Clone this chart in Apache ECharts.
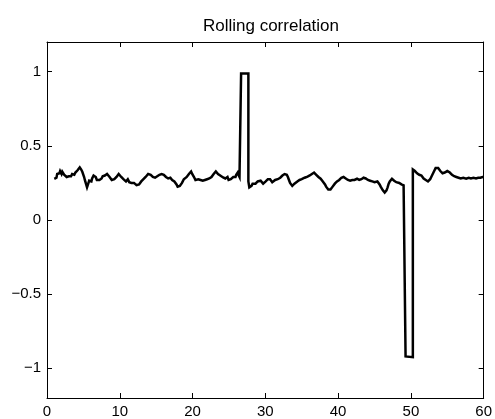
<!DOCTYPE html>
<html>
<head>
<meta charset="utf-8">
<script src="https://cdn.jsdelivr.net/npm/echarts@6/dist/echarts.min.js"></script>
<style>
  html, body { margin: 0; padding: 0; background: #fff; }
  #chart { width: 495px; height: 419px; }
</style>
</head>
<body>
<div id="chart"></div>
<script>
// [time, correlation] pairs, split into pieces
var beforeFirstJump = [
  [1.0,.278],[1.1,.27],[1.2,.29],[1.3,.285],[1.4,.31],[1.5,.30],[1.6,.32],[1.7,.315],[1.8,.33],[1.9,.32],
  [2.0,.31],[2.1,.325],[2.2,.32],[2.35,.305],[2.5,.30],[2.6,.31],[2.7,.29],[2.8,.295],[2.9,.287],[3.0,.295],
  [3.1,.30],[3.2,.29],[3.3,.295],[3.45,.31],[3.6,.315],[3.75,.305],[3.9,.32],[4.05,.325],[4.2,.335],[4.35,.34],
  [4.5,.355],[4.6,.345],[4.7,.34],[4.85,.325],[5.0,.315],[5.1,.29],[5.2,.27],[5.35,.245],[5.5,.22],[5.6,.235],
  [5.7,.25],[5.8,.265],[5.9,.27],[6.0,.255],[6.1,.26],[6.2,.28],[6.3,.29],[6.4,.30],[6.5,.31],[6.6,.30],
  [6.7,.29],[6.85,.27],[7.0,.26],[7.1,.275],[7.2,.27],[7.35,.28],[7.5,.28],[7.65,.295],[7.8,.29],[7.95,.30],
  [8.1,.30],[8.25,.31],[8.4,.31],[8.5,.30],[8.6,.29],[8.75,.28],[8.9,.27],[9.0,.26],[9.1,.265],[9.25,.275],
  [9.4,.28],[9.55,.29],[9.7,.30],[9.85,.31],[10.0,.31],[10.1,.30],[10.2,.29],[10.35,.28],[10.5,.275],[10.6,.28],
  [10.7,.27],[10.85,.26],[11.0,.265],[11.1,.275],[11.2,.27],[11.3,.255],[11.4,.26],[11.5,.255],[11.6,.25],[11.7,.245],
  [11.8,.24],[11.95,.25],[12.1,.245],[12.2,.24],[12.3,.235],[12.4,.24],[12.5,.234],[12.65,.24],[12.8,.25],[12.95,.26],
  [13.1,.265],[13.25,.275],[13.4,.28],[13.55,.29],[13.7,.30],[13.9,.31],[14.1,.315],[14.25,.305],[14.4,.30],[14.55,.29],
  [14.7,.295],[14.85,.285],[15.0,.287],[15.15,.295],[15.3,.295],[15.45,.305],[15.6,.30],[15.75,.31],[15.9,.31],[16.05,.305],
  [16.2,.30],[16.35,.29],[16.5,.29],[16.65,.28],[16.8,.287],[16.95,.285],[17.1,.28],[17.2,.27],[17.3,.27],[17.4,.26],
  [17.5,.26],[17.65,.25],[17.8,.24],[17.95,.225],[18.1,.216],[18.25,.23],[18.4,.24],[18.55,.25],[18.7,.26],[18.8,.275],
  [18.9,.27],[19.05,.28],[19.2,.29],[19.35,.30],[19.5,.31],[19.65,.315],[19.8,.327],[19.95,.31],[20.1,.30],[20.2,.29],
  [20.3,.28],[20.4,.27],[20.5,.267],[20.65,.27],[20.8,.275],[20.95,.265],[21.1,.27],[21.25,.26],[21.4,.265],[21.55,.275],
  [21.7,.27],[21.85,.28],[22.0,.275],[22.15,.285],[22.3,.28],[22.45,.29],[22.6,.29],[22.75,.30],[22.9,.31],[23.05,.32],
  [23.2,.327],[23.35,.315],[23.5,.31],[23.65,.30],[23.8,.30],[24.0,.29],[24.2,.287],[24.35,.275],[24.5,.28],[24.65,.29],
  [24.8,.29],[24.95,.27],[25.1,.278],[25.25,.275],[25.4,.285],[25.6,.29],[25.8,.30],[25.9,.29],[26.0,.305],[26.1,.31],
  [26.2,.32],[26.3,.305],[26.45,.29],[26.55,.285],[26.67,.28]
];
var firstJump = [[26.67,.987],[27.67,.987]];
var betweenJumps = [
  [27.67,.26],[27.8,.22],[27.95,.225],[28.1,.23],[28.25,.245],[28.4,.235],[28.5,.238],[28.65,.245],[28.8,.25],[28.95,.26],
  [29.1,.255],[29.2,.26],[29.35,.265],[29.5,.255],[29.7,.245],[29.9,.25],[30.05,.26],[30.2,.265],[30.35,.275],[30.5,.28],
  [30.65,.275],[30.8,.27],[30.95,.255],[31.1,.26],[31.2,.26],[31.35,.27],[31.5,.27],[31.7,.275],[31.9,.28],[32.05,.285],
  [32.2,.29],[32.35,.30],[32.5,.30],[32.65,.31],[32.8,.315],[32.95,.305],[33.1,.29],[33.25,.27],[33.4,.25],[33.55,.24],
  [33.7,.23],[33.85,.24],[34.0,.245],[34.2,.255],[34.4,.26],[34.55,.265],[34.7,.27],[34.85,.265],[35.0,.275],[35.2,.28],
  [35.4,.285],[35.6,.29],[35.8,.293],[35.95,.30],[36.1,.30],[36.25,.31],[36.4,.31],[36.55,.315],[36.7,.32],[36.85,.31],
  [37.0,.305],[37.15,.295],[37.3,.29],[37.45,.285],[37.6,.278],[37.75,.27],[37.9,.26],[38.05,.25],[38.2,.24],[38.35,.225],
  [38.5,.215],[38.65,.205],[38.8,.198],[38.95,.205],[39.1,.215],[39.25,.225],[39.4,.235],[39.55,.245],[39.7,.25],[39.85,.26],
  [40.0,.265],[40.15,.27],[40.3,.28],[40.45,.285],[40.6,.293],[40.75,.29],[40.9,.285],[41.05,.28],[41.2,.275],[41.35,.27],
  [41.5,.27],[41.65,.265],[41.8,.275],[41.95,.27],[42.1,.28],[42.25,.27],[42.4,.275],[42.5,.28],[42.6,.278],[42.75,.275],
  [42.9,.27],[43.05,.265],[43.2,.275],[43.35,.28],[43.5,.285],[43.65,.275],[43.8,.28],[43.95,.275],[44.1,.27],[44.25,.26],
  [44.4,.265],[44.55,.26],[44.7,.26],[44.85,.255],[45.0,.255],[45.2,.265],[45.4,.26],[45.55,.25],[45.7,.24],[45.85,.225],
  [46.0,.215],[46.15,.20],[46.3,.19],[46.4,.185],[46.5,.183],[46.65,.20],[46.8,.22],[46.95,.245],[47.1,.26],[47.25,.27],
  [47.4,.278],[47.55,.27],[47.7,.265],[47.85,.26],[48.0,.255],[48.2,.25],[48.4,.25],[48.55,.245],[48.7,.24],[48.85,.24],
  [49.0,.234],[49.15,.24],[49.27,.235]
];
var secondJump = [[49.27,-.92],[50.27,-.925]];
var afterSecondJump = [
  [50.27,.34],[50.4,.338],[50.55,.33],[50.7,.325],[50.85,.315],[51.0,.31],[51.15,.305],[51.3,.304],[51.45,.30],[51.6,.29],
  [51.75,.28],[51.9,.275],[52.05,.27],[52.2,.265],[52.35,.26],[52.5,.26],[52.65,.275],[52.8,.29],[52.95,.305],[53.1,.32],
  [53.25,.335],[53.4,.35],[53.5,.355],[53.6,.36],[53.75,.35],[53.9,.34],[54.05,.33],[54.2,.32],[54.35,.315],[54.5,.315],
  [54.65,.32],[54.8,.32],[54.9,.325],[55.0,.33],[55.1,.335],[55.2,.33],[55.35,.32],[55.5,.31],[55.65,.305],[55.8,.30],
  [55.95,.295],[56.1,.293],[56.25,.29],[56.4,.29],[56.55,.285],[56.7,.285],[56.85,.28],[57.0,.28],[57.2,.285],[57.4,.282],
  [57.6,.278],[57.8,.28],[57.95,.285],[58.1,.285],[58.25,.28],[58.4,.278],[58.6,.285],[58.8,.285],[58.95,.28],[59.1,.28],
  [59.25,.285],[59.4,.29],[59.55,.285],[59.7,.293],[59.85,.29],[60.0,.29]
];

var xTicks = [0, 10, 20, 30, 40, 50, 60];
var yTicks = [-1, -0.5, 0, 0.5, 1];
var yTickLabels = ['\u22121', '\u22120.5', '0', '0.5', '1'];

var chart = echarts.init(document.getElementById('chart'));

var seriesData = beforeFirstJump.concat(firstJump, betweenJumps, secondJump, afterSecondJump);

var fontFamily = 'Liberation Sans, Arial, Helvetica, sans-serif';
var boxLine = { show: true, onZero: false, lineStyle: { color: '#000', width: 1 } };
var inTick = { show: true, inside: true, length: 5, lineStyle: { color: '#000', width: 1 } };

function yLabel(v) {
    var idx = yTicks.indexOf(v);
    return idx >= 0 ? yTickLabels[idx] : '';
}

var option = {
    backgroundColor: '#fff',
    animation: false,
    title: {
        text: 'Rolling correlation',
        left: 266,
        textAlign: 'center',
        top: 13,
        textStyle: { fontFamily: fontFamily, fontSize: 17, fontWeight: 'normal', color: '#000' }
    },
    grid: { left: 47, right: 10, top: 42, bottom: 17 },
    xAxis: [{
        type: 'value',
        position: 'bottom',
        min: 0, max: 60, interval: 10,
        axisLine: boxLine,
        axisTick: inTick,
        splitLine: { show: false },
        axisLabel: { show: true, margin: 6, color: '#000', fontFamily: fontFamily, fontSize: 15,
            customValues: xTicks }
    }, {
        type: 'value',
        position: 'top',
        min: 0, max: 60, interval: 10,
        axisLine: boxLine,
        axisTick: inTick,
        splitLine: { show: false },
        axisLabel: { show: false }
    }],
    yAxis: [{
        type: 'value',
        position: 'left',
        min: -1.2, max: 1.2,
        axisLine: boxLine,
        axisTick: { show: true, inside: true, length: 5, lineStyle: { color: '#000', width: 1 }, customValues: yTicks },
        splitLine: { show: false },
        axisLabel: { show: true, margin: 6, color: '#000', fontFamily: fontFamily, fontSize: 15,
            customValues: yTicks, formatter: yLabel }
    }, {
        type: 'value',
        position: 'right',
        min: -1.2, max: 1.2,
        axisLine: boxLine,
        axisTick: { show: true, inside: true, length: 5, lineStyle: { color: '#000', width: 1 }, customValues: yTicks },
        splitLine: { show: false },
        axisLabel: { show: false }
    }],
    series: [{
        name: 'Rolling correlation',
        type: 'line',
        xAxisIndex: 0,
        yAxisIndex: 0,
        showSymbol: false,
        symbol: 'none',
        lineStyle: { color: '#000', width: 2.5, join: 'miter' },
        data: seriesData
    }]
};

chart.setOption(option);
</script>
</body>
</html>
